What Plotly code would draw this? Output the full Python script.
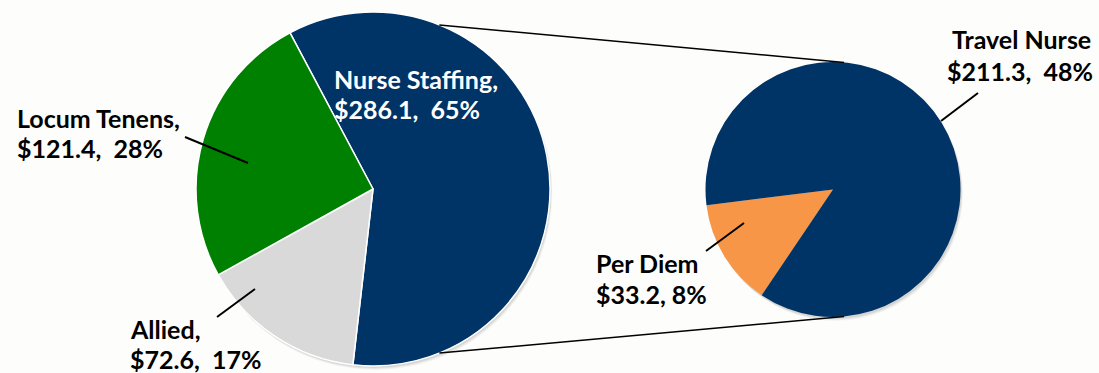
import math
import plotly.graph_objects as go

W, H = 1099, 373

# Main breakdown (left pie)
main_labels = ["Nurse Staffing", "Allied", "Locum Tenens"]
main_values = [286.1, 72.6, 121.4]
main_pct = ["65%", "17%", "28%"]
main_colors = ["#003366", "#d9d9d9", "#008000"]

# Nurse staffing detail (right pie)
detail_labels = ["Per Diem", "Travel Nurse"]
detail_values = [33.2, 211.3]
detail_pct = ["8%", "48%"]
detail_colors = ["#f79646", "#003366"]

FONT = "Lato"
FS = 25


def px(x):
    return x / W


def py(y):
    return 1 - y / H


# pie geometry in pixels (centre, radius)
L_CX, L_CY, L_R = 373, 189, 177
R_CX, R_CY, R_R = 833, 189.5, 127.5


def domain(cx, cy, r):
    return dict(x=[px(cx - r), px(cx + r)], y=[py(cy + r), py(cy - r)])


fig = go.Figure()
fig.add_trace(go.Pie(
    labels=main_labels, values=main_values, sort=False, direction="clockwise",
    rotation=-28, textinfo="none", hoverinfo="label+value",
    marker=dict(colors=main_colors, line=dict(color="white", width=1.5)),
    domain=domain(L_CX, L_CY, L_R), showlegend=False,
))
fig.add_trace(go.Pie(
    labels=detail_labels, values=detail_values, sort=False, direction="clockwise",
    rotation=214, textinfo="none", hoverinfo="label+value",
    marker=dict(colors=detail_colors, line=dict(color="white", width=0)),
    domain=domain(R_CX, R_CY, R_R), showlegend=False,
))


def on_circle(cx, cy, r, ang):
    a = math.radians(ang)
    return cx + r * math.sin(a), cy - r * math.cos(a)


shapes = []

# soft drop shadow under both pies
for cx, cy, r in [(L_CX, L_CY, L_R), (R_CX, R_CY, R_R)]:
    for off, alpha in [(4, 0.04), (3, 0.05), (2, 0.07)]:
        shapes.append(dict(type="circle", xref="paper", yref="paper", layer="below",
                           x0=px(cx - r + off * 0.6), x1=px(cx + r + off * 0.6),
                           y0=py(cy + r + off), y1=py(cy - r + off),
                           fillcolor=f"rgba(0,0,0,{alpha})", line=dict(width=0)))

# connector lines between the two pies
for a_left, a_right in [(22, 5), (158, 175)]:
    x0, y0 = on_circle(L_CX, L_CY, L_R, a_left)
    x1, y1 = on_circle(R_CX, R_CY, R_R, a_right)
    shapes.append(dict(type="line", xref="paper", yref="paper",
                       x0=px(x0), y0=py(y0), x1=px(x1), y1=py(y1),
                       line=dict(color="black", width=1.5)))

# leader lines for the outside labels
leaders = [
    ((185, 137), (248, 163)),
    ((217, 317), (255, 289)),
    ((978, 93), (941, 121)),
    ((706, 251), (744, 223)),
]
for (xa, ya), (xb, yb) in leaders:
    shapes.append(dict(type="line", xref="paper", yref="paper",
                       x0=px(xa), y0=py(ya), x1=px(xb), y1=py(yb),
                       line=dict(color="black", width=2)))

annotations = []


def label(lines, x, baselines, color="black", anchor="left"):
    for text, b in zip(lines, baselines):
        annotations.append(dict(
            text=text, x=px(x), y=py(b - 0.38 * FS), xref="paper", yref="paper",
            xanchor=anchor, yanchor="middle", showarrow=False, borderpad=0,
            font=dict(family=FONT, size=FS, color=color, weight="bold"),
        ))


label([f"{main_labels[0]},", f"${main_values[0]:.1f},  {main_pct[0]}"], 333, [88, 118], "white")
label([f"{main_labels[2]},", f"${main_values[2]:.1f},  {main_pct[2]}"], 16, [127, 158])
label([f"{main_labels[1]},", f"${main_values[1]:.1f},  {main_pct[1]}"], 129, [338, 368])
label([detail_labels[1]], 951, [49])
label([f"${detail_values[1]:.1f},  {detail_pct[1]}"], 1094, [80], anchor="right")
label([detail_labels[0], f"${detail_values[0]:.1f}, {detail_pct[0]}"], 595, [272, 303])

fig.update_layout(
    width=W, height=H, margin=dict(l=0, r=0, t=0, b=0),
    paper_bgcolor="#fdfdfb", plot_bgcolor="#fdfdfb",
    shapes=shapes, annotations=annotations,
)

fig.write_html("out.html")
